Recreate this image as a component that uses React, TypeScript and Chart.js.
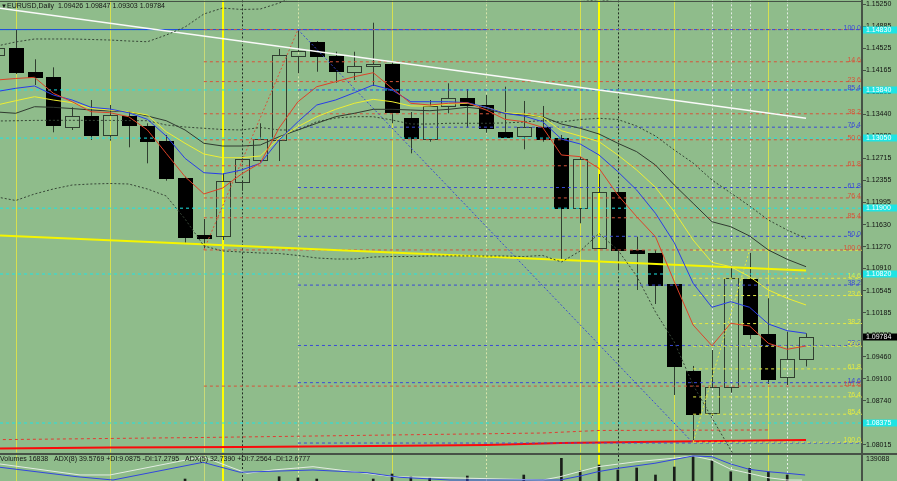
import React, { useEffect, useRef } from "react";
import { Chart, registerables } from "chart.js";

Chart.register(...registerables);

// ---------- data ----------
const FIRST_INDEX = -1; // first array entry is the partly visible candle
const X_MIN = -0.834;
const X_MAX = 44.975;
const Y_MIN = 1.07889;
const Y_MAX = 1.1531;

const titleText = "EURUSD,Daily  1.09426 1.09847 1.09303 1.09784";
const volumeText =
  "Volumes 16838   ADX(8) 39.5769 +DI:9.0875 -DI:17.2795   ADX(5) 32.7390 +DI:7.2564 -DI:12.6777";

const opens = [1.14413, 1.14533, 1.14139, 1.14052, 1.13237, 1.13408, 1.13096, 1.13412, 1.13253, 1.13002, 1.12395, 1.11465, 1.11449, 1.12335, 1.12691, 1.13019, 1.14397, 1.14622, 1.14402, 1.14139, 1.14238, 1.14266, 1.13375, 1.1304, 1.13577, 1.13713, 1.13588, 1.13155, 1.13089, 1.13232, 1.13052, 1.11898, 1.11242, 1.1217, 1.11214, 1.1116, 1.10651, 1.09229, 1.08535, 1.08961, 1.10738, 1.09831, 1.09125, 1.09426];
const highs = [1.14594, 1.14823, 1.14343, 1.14211, 1.13555, 1.13675, 1.13593, 1.13483, 1.13293, 1.13101, 1.12417, 1.11723, 1.12472, 1.12718, 1.13293, 1.14512, 1.14823, 1.14643, 1.14467, 1.14467, 1.14943, 1.14303, 1.13478, 1.13675, 1.13949, 1.13855, 1.13757, 1.13893, 1.13659, 1.13577, 1.13101, 1.1274, 1.12461, 1.12231, 1.11432, 1.11214, 1.10651, 1.09311, 1.09573, 1.10956, 1.1117, 1.10422, 1.09873, 1.09847];
const lows = [1.14364, 1.14102, 1.13921, 1.13145, 1.13183, 1.13019, 1.13007, 1.12899, 1.12636, 1.12351, 1.11334, 1.11247, 1.11378, 1.12187, 1.12658, 1.12674, 1.14113, 1.14139, 1.13959, 1.14003, 1.13905, 1.13293, 1.128, 1.12991, 1.13457, 1.1322, 1.13138, 1.13068, 1.12866, 1.12991, 1.1105, 1.11652, 1.1123, 1.10886, 1.10558, 1.10328, 1.08835, 1.08085, 1.0849, 1.08873, 1.09754, 1.09015, 1.08999, 1.09303];
const closes = [1.14528, 1.14139, 1.14057, 1.1326, 1.13408, 1.13096, 1.13434, 1.1326, 1.12997, 1.1239, 1.11427, 1.11411, 1.12346, 1.12702, 1.1303, 1.14413, 1.14479, 1.14402, 1.14151, 1.14238, 1.14266, 1.13478, 1.13052, 1.13577, 1.13713, 1.13593, 1.13211, 1.13073, 1.13227, 1.13035, 1.11898, 1.12702, 1.1217, 1.11214, 1.1116, 1.1064, 1.09311, 1.08528, 1.08961, 1.1075, 1.09831, 1.09097, 1.09426, 1.09784];
const volumes = [55000, 60000, 52000, 64000, 48000, 50000, 54000, 47000, 58000, 62000, 72400, 63000, 60000, 50000, 56000, 79100, 75300, 72400, 58000, 55000, 72400, 86900, 79100, 75300, 60000, 81100, 65000, 52000, 84000, 64000, 132400, 95600, 113000, 98500, 104300, 84000, 107200, 139088, 125500, 93600, 103500, 93600, 84000, 16838];

const maRed = [1.14003, 1.14028, 1.14047, 1.13785, 1.13647, 1.13483, 1.13467, 1.13401, 1.13183, 1.128, 1.12417, 1.12133, 1.12231, 1.12461, 1.12641, 1.13216, 1.13647, 1.13893, 1.13975, 1.14057, 1.14123, 1.13867, 1.13621, 1.13593, 1.13621, 1.13631, 1.13511, 1.13358, 1.13319, 1.13227, 1.12773, 1.12745, 1.12554, 1.12116, 1.1176, 1.11432, 1.10694, 1.09983, 1.09644, 1.10011, 1.09967, 1.09683, 1.09585, 1.09639];
const maBlue = [1.13814, 1.13867, 1.13905, 1.13757, 1.13675, 1.13555, 1.13527, 1.13467, 1.13358, 1.13084, 1.12718, 1.12482, 1.12461, 1.12527, 1.12636, 1.13019, 1.13319, 1.13593, 1.13675, 1.13795, 1.13921, 1.13839, 1.13647, 1.13647, 1.13647, 1.13631, 1.13555, 1.13457, 1.13412, 1.13319, 1.13035, 1.12953, 1.12773, 1.12499, 1.12198, 1.11816, 1.11334, 1.10668, 1.10274, 1.10366, 1.10274, 1.1, 1.0989, 1.09847];
const maYellow = [1.13593, 1.13663, 1.13729, 1.13675, 1.13631, 1.13539, 1.13511, 1.13483, 1.13429, 1.13155, 1.12965, 1.12789, 1.12728, 1.12728, 1.12756, 1.13047, 1.13237, 1.13401, 1.13522, 1.13621, 1.13686, 1.13647, 1.13577, 1.13577, 1.13609, 1.13621, 1.13555, 1.13467, 1.13445, 1.13396, 1.13171, 1.13084, 1.12991, 1.12773, 1.12527, 1.12243, 1.11842, 1.11378, 1.11012, 1.1094, 1.10776, 1.10558, 1.10421, 1.10312];
const maGray = [1.13478, 1.13457, 1.13565, 1.13555, 1.13535, 1.13511, 1.13494, 1.13483, 1.13412, 1.13335, 1.13183, 1.12965, 1.1292, 1.1292, 1.12937, 1.13073, 1.13183, 1.13293, 1.13401, 1.13457, 1.13522, 1.13522, 1.13511, 1.13499, 1.13522, 1.13555, 1.13522, 1.13457, 1.13429, 1.13401, 1.13281, 1.13211, 1.13117, 1.12965, 1.12827, 1.12608, 1.1228, 1.1198, 1.11678, 1.11596, 1.11444, 1.11214, 1.11061, 1.1094];
const bandUpper = [1.14561, 1.14627, 1.14676, 1.14676, 1.14676, 1.14668, 1.14659, 1.14643, 1.14631, 1.14741, 1.14873, 1.15086, 1.15184, 1.1516, 1.15168, 1.15266, 1.15398, 1.1552, 1.1556, 1.1558, 1.156, 1.156, 1.156, 1.156, 1.156, 1.156, 1.1558, 1.1555, 1.155, 1.1545, 1.1538, 1.1533, 1.1529, 1.1534, 1.1545, 1.156, 1.156, 1.156, 1.156, 1.156, 1.156, 1.156, 1.156, 1.156];
const bandMid = [1.1333, 1.13335, 1.1334, 1.13342, 1.13342, 1.1334, 1.1334, 1.13337, 1.13335, 1.13265, 1.13232, 1.13211, 1.13191, 1.13183, 1.13224, 1.13183, 1.13183, 1.13319, 1.1338, 1.13401, 1.13401, 1.13347, 1.13281, 1.13281, 1.13293, 1.13293, 1.13293, 1.13298, 1.13314, 1.13339, 1.13314, 1.13355, 1.13375, 1.13355, 1.13248, 1.13084, 1.12855, 1.12641, 1.12362, 1.12149, 1.11936, 1.11706, 1.11542, 1.11403];
const bandLower = [1.12084, 1.12026, 1.12133, 1.12215, 1.1228, 1.12297, 1.12305, 1.12297, 1.12215, 1.121, 1.11723, 1.1128, 1.11198, 1.11181, 1.11165, 1.11156, 1.11124, 1.11083, 1.11066, 1.11066, 1.11099, 1.11107, 1.11107, 1.11116, 1.11116, 1.11116, 1.11116, 1.11116, 1.11107, 1.11124, 1.11017, 1.11198, 1.11485, 1.11214, 1.10787, 1.10197, 1.09705, 1.08999, 1.08458, 1.07933, 1.07391, 1.0685, 1.06308, 1.058];

const redLineIdx = [-1, 5, 12, 19, 25, 29, 35, 42];
const redLineVal = [1.07957, 1.07974, 1.07982, 1.07998, 1.08015, 1.08047, 1.08072, 1.08097];
const redDotIdx = [-1, 10, 20, 28, 31, 40];
const redDotVal = [1.08102, 1.08138, 1.08179, 1.08211, 1.08253, 1.08261];

const whiteTrendIdx = [-0.834, 42];
const whiteTrendVal = [1.15179, 1.13375];
const yellowTrendIdx = [-0.834, 42];
const yellowTrendVal = [1.11452, 1.10878];

const fibLevels = [0, 14.6, 23.6, 38.2, 50, 61.8, 76.4, 85.4, 100];
const redFibLevels = [0, 14.6, 23.6, 38.2, 50, 61.8, 76.4, 85.4, 100, 161.8];
const redFibStart = 10;
const redFibHigh = 1.1483;
const redFibLow = 1.11215;
const blueFibStart = 15;
const blueFibEndIdx = 36;
const blueFibHigh = 1.1483;
const blueFibLow = 1.08047;
const yellowFibStart = 36;
const yellowFibEndIdx = 39;
const yellowFibHigh = 1.1121;
const yellowFibLow = 1.0806;

const blueHLine = 1.1483;
const blueHLineEnd = 25;
const cyanLevels = [1.1483, 1.1384, 1.1305, 1.119, 1.1082, 1.08375];
const lastPrice = 1.09784;

const yTicks = [1.1525, 1.14885, 1.14525, 1.14165, 1.13805, 1.1344, 1.1308, 1.12715, 1.12355, 1.11995, 1.1163, 1.1127, 1.1091, 1.10545, 1.10185, 1.0982, 1.0946, 1.091, 1.0874, 1.08375, 1.08015];

const vYellow = [0, 5, 20, 30, 35, 40];
const vPale = [10];
const vPaleDotted = [15, 25];
const vBright = [11, 31];
const vDarkDotted = [12, 32];
const vWhiteDotted = [37, 38, 39, 41];

const volMaxLabel = "139088";
const adxBlueIdx = [-0.834, 3.26, 5.17, 9.95, 11.92, 15.8, 18.67, 20.42, 23.08, 28.93, 30.0, 30.94, 32.0, 33.97, 36.0, 37.0, 38.0, 38.97, 39.98, 40.99, 41.95];
const adxBlueVal = [50.2, 37.3, 32.8, 57.0, 43.4, 46.5, 42.8, 36.5, 32.8, 32.8, 38.3, 44.2, 48.8, 55.7, 65.7, 64.7, 54.7, 47.5, 44.2, 42.0, 39.6];
const adxWhiteIdx = [-0.834, 3.42, 5.01, 9.95, 12.29, 13.67, 15.8, 17.93, 20.05, 22.02, 28.02, 28.93, 30.94, 33.02, 34.93, 36.0, 37.0, 38.0, 38.97, 39.98, 40.99, 41.79];
const adxWhiteVal = [54.7, 39.7, 39.7, 64.7, 42.0, 46.5, 51.0, 44.2, 37.3, 36.5, 32.8, 37.3, 51.0, 57.9, 62.5, 65.7, 60.2, 47.5, 42.0, 36.0, 32.8, 32.7];

// ---------- styles ----------
const BG = "rgb(143,188,139)";
const FONT = '"Liberation Sans", Arial, sans-serif';
const RED_FIB = "rgb(214,84,58)";
const BLUE_FIB = "rgb(58,74,214)";
const YEL_FIB = "rgb(228,234,66)";
const CYAN = "rgb(30,228,228)";
const AXIS = "rgb(70,82,70)";

const vGroups = [
  { idx: vYellow, color: "rgb(214,224,80)", width: 1, dash: [] as number[] },
  { idx: vPale, color: "rgb(200,218,120)", width: 1, dash: [] as number[] },
  { idx: vPaleDotted, color: "rgb(215,228,170)", width: 1, dash: [2, 2] },
  { idx: vBright, color: "rgb(255,255,0)", width: 2, dash: [] as number[] },
  { idx: vDarkDotted, color: "rgb(35,45,35)", width: 1, dash: [2, 2] },
  { idx: vWhiteDotted, color: "rgb(228,236,228)", width: 1, dash: [2, 2] },
];

const series = (arr: number[]) => arr.map((v, i) => ({ x: i + FIRST_INDEX, y: v }));
const pairs = (xs: number[], ys: number[]) => xs.map((x, i) => ({ x, y: ys[i] }));
const seg = (x0: number, x1: number, y: number) => [{ x: x0, y }, { x: x1, y }];
const redFibPrice = (l: number) => redFibHigh - (l / 100) * (redFibHigh - redFibLow);
const blueFibPrice = (l: number) => blueFibLow + (l / 100) * (blueFibHigh - blueFibLow);
const yellowFibPrice = (l: number) => yellowFibHigh - (l / 100) * (yellowFibHigh - yellowFibLow);

const fmtLvl = (l: number) => l.toFixed(1);

function line(data: any[], color: string, width = 1, dash: number[] = []) {
  return {
    type: "line",
    data,
    borderColor: color,
    borderWidth: width,
    borderDash: dash,
    pointRadius: 0,
    fill: false,
    tension: 0,
    spanGaps: true,
  };
}

function drawVerticals(chart: any) {
  const { ctx, chartArea, scales } = chart;
  const xs = scales.x;
  ctx.save();
  ctx.beginPath();
  ctx.rect(chartArea.left, chartArea.top, chartArea.width, chartArea.height);
  ctx.clip();
  for (const g of vGroups) {
    ctx.strokeStyle = g.color;
    ctx.lineWidth = g.width;
    ctx.setLineDash(g.dash);
    for (const i of g.idx) {
      const px = Math.round(xs.getPixelForValue(i)) + (g.width % 2 ? 0.5 : 0);
      ctx.beginPath();
      ctx.moveTo(px, chartArea.top);
      ctx.lineTo(px, chartArea.bottom);
      ctx.stroke();
    }
  }
  ctx.restore();
}

const mainPlugin = {
  id: "mtMain",
  beforeDatasetsDraw(chart: any) {
    drawVerticals(chart);
    const { ctx, chartArea, scales } = chart;
    const xs = scales.x;
    const ys = scales.y;
    const step = xs.getPixelForValue(1) - xs.getPixelForValue(0);
    const bw = Math.round(step * 0.72);
    ctx.save();
    ctx.beginPath();
    ctx.rect(chartArea.left, chartArea.top, chartArea.width, chartArea.height);
    ctx.clip();
    ctx.setLineDash([]);
    for (let i = 0; i < opens.length; i++) {
      const cx = Math.round(xs.getPixelForValue(i + FIRST_INDEX)) + 0.5;
      const o = ys.getPixelForValue(opens[i]);
      const c = ys.getPixelForValue(closes[i]);
      const h = ys.getPixelForValue(highs[i]);
      const l = ys.getPixelForValue(lows[i]);
      const top = Math.round(Math.min(o, c)) + 0.5;
      const bot = Math.max(Math.round(Math.max(o, c)) + 0.5, top + 1);
      const bull = closes[i] >= opens[i];
      ctx.strokeStyle = "rgb(48,62,48)";
      ctx.lineWidth = 1;
      ctx.beginPath();
      ctx.moveTo(cx, h);
      ctx.lineTo(cx, top);
      ctx.moveTo(cx, bot);
      ctx.lineTo(cx, l);
      ctx.stroke();
      const left = cx - bw / 2;
      if (bull) {
        ctx.strokeStyle = "rgb(48,62,48)";
        ctx.strokeRect(left, top, bw, bot - top);
      } else {
        ctx.fillStyle = "#000";
        ctx.fillRect(left - 0.5, top - 0.5, bw + 1, bot - top + 1);
      }
    }
    ctx.restore();
  },
  afterDraw(chart: any) {
    const { ctx, chartArea, scales } = chart;
    const ys = scales.y;
    ctx.save();
    ctx.fillStyle = AXIS;
    ctx.fillRect(0, 1, chartArea.right, 1);

    ctx.font = `7px ${FONT}`;
    ctx.textAlign = "right";
    ctx.textBaseline = "alphabetic";
    const rx = chartArea.right - 1;
    for (const l of redFibLevels) {
      if (l === 0) continue;
      ctx.fillStyle = RED_FIB;
      ctx.fillText(fmtLvl(l), rx, Math.round(ys.getPixelForValue(redFibPrice(l))));
    }
    for (const l of fibLevels) {
      if (l === 0) continue;
      ctx.fillStyle = BLUE_FIB;
      ctx.fillText(fmtLvl(l), rx, Math.round(ys.getPixelForValue(blueFibPrice(l))));
    }
    for (const l of fibLevels) {
      if (l === 0) continue;
      ctx.fillStyle = YEL_FIB;
      ctx.fillText(fmtLvl(l), rx, Math.round(ys.getPixelForValue(yellowFibPrice(l))));
    }

    // title
    ctx.textAlign = "left";
    ctx.textBaseline = "middle";
    ctx.fillStyle = "#151515";
    ctx.font = `6px ${FONT}`;
    ctx.fillText("\u25BC", 1, 6);
    ctx.font = `7px ${FONT}`;
    ctx.fillText(titleText, 7, 6);

    // axis boxes
    const ax = chartArea.right + 1;
    for (const v of cyanLevels) {
      const py = Math.round(ys.getPixelForValue(v));
      ctx.fillStyle = CYAN;
      ctx.fillRect(ax, py - 3.5, 897 - ax, 7);
      ctx.fillStyle = "#ffffff";
      ctx.fillText(v.toFixed(5), chartArea.right + 4, py);
    }
    const pp = Math.round(ys.getPixelForValue(lastPrice));
    ctx.fillStyle = "#000";
    ctx.fillRect(ax, pp - 3.5, 897 - ax, 7);
    ctx.fillStyle = "#fff";
    ctx.fillText(lastPrice.toFixed(5), chartArea.right + 4, pp);
    ctx.restore();
  },
};

const volPlugin = {
  id: "mtVol",
  beforeDatasetsDraw(chart: any) {
    drawVerticals(chart);
  },
  afterDraw(chart: any) {
    const { ctx, chartArea } = chart;
    ctx.save();
    ctx.font = `7px ${FONT}`;
    ctx.textAlign = "left";
    ctx.textBaseline = "middle";
    ctx.fillStyle = "#151515";
    ctx.fillText(volumeText, 0, 4.5);
    ctx.fillText(volMaxLabel, chartArea.right + 4, 4);
    ctx.restore();
  },
};

export default function App() {
  const mainRef = useRef<HTMLCanvasElement>(null);
  const volRef = useRef<HTMLCanvasElement>(null);

  useEffect(() => {
    const datasets: any[] = [
      line(series(maRed), "rgb(222,66,40)"),
      line(series(maBlue), "rgb(40,60,232)"),
      line(series(maYellow), "rgb(238,238,50)"),
      line(series(maGray), "rgb(48,58,48)"),
      line(series(bandUpper), "rgb(55,70,55)", 1, [2, 2]),
      line(series(bandMid), "rgb(55,70,55)", 1, [2, 2]),
      line(series(bandLower), "rgb(55,70,55)", 1, [2, 2]),
      line(pairs(whiteTrendIdx, whiteTrendVal), "rgb(250,250,250)", 1.5),
      line(pairs(yellowTrendIdx, yellowTrendVal), "rgb(245,245,0)", 2),
      line([{ x: redFibStart, y: redFibLow }, { x: blueFibStart, y: redFibHigh }], RED_FIB, 1, [2, 2]),
      line([{ x: blueFibStart, y: blueFibHigh }, { x: blueFibEndIdx, y: blueFibLow }], BLUE_FIB, 1, [2, 2]),
      line([{ x: yellowFibStart, y: yellowFibLow }, { x: yellowFibEndIdx, y: yellowFibHigh }], YEL_FIB, 1, [2, 2]),
    ];
    for (const l of fibLevels) datasets.push(line(seg(yellowFibStart, X_MAX, yellowFibPrice(l)), YEL_FIB, 1, [3, 3]));
    for (const l of fibLevels) datasets.push(line(seg(blueFibStart, X_MAX, blueFibPrice(l)), BLUE_FIB, 1, [3, 3]));
    for (const l of redFibLevels) datasets.push(line(seg(redFibStart, X_MAX, redFibPrice(l)), RED_FIB, 1, [3, 3]));
    datasets.push(line(seg(X_MIN, blueHLineEnd, blueHLine), "rgb(30,70,220)", 1));
    for (const v of cyanLevels) datasets.push(line(seg(X_MIN, X_MAX, v), CYAN, 1, [3, 3]));
    datasets.push(line(pairs(redLineIdx, redLineVal), "rgb(250,10,10)", 2));
    datasets.push(line(pairs(redDotIdx, redDotVal), "rgb(225,60,50)", 1, [3, 3]));

    const main = new Chart(mainRef.current as HTMLCanvasElement, {
      type: "line",
      data: { datasets },
      options: {
        animation: false,
        responsive: false,
        devicePixelRatio: 1,
        events: [],
        layout: { padding: 0 },
        plugins: { legend: { display: false }, tooltip: { enabled: false } },
        scales: {
          x: { type: "linear", min: X_MIN, max: X_MAX, display: false, offset: false },
          y: {
            type: "linear",
            position: "right",
            min: Y_MIN,
            max: Y_MAX,
            afterBuildTicks: (s: any) => {
              s.ticks = yTicks.map((v) => ({ value: v }));
            },
            afterFit: (s: any) => {
              s.width = 35;
            },
            ticks: {
              autoSkip: false,
              padding: 0,
              color: "#111",
              font: { family: FONT, size: 7, lineHeight: 0.1 },
              callback: (v: any) => Number(v).toFixed(5),
            },
            grid: { display: true, drawOnChartArea: false, drawTicks: true, tickLength: 4, color: AXIS },
            border: { display: true, color: AXIS, width: 2 },
          },
        },
      } as any,
      plugins: [mainPlugin],
    } as any);

    const vol = new Chart(volRef.current as HTMLCanvasElement, {
      type: "line",
      data: {
        datasets: [
          { ...line(pairs(adxBlueIdx, adxBlueVal), "rgb(50,70,222)"), yAxisID: "yAdx" },
          { ...line(pairs(adxWhiteIdx, adxWhiteVal), "rgb(226,236,226)"), yAxisID: "yAdx" },
          {
            type: "bar",
            data: series(volumes),
            backgroundColor: "rgb(25,30,25)",
            barThickness: 2,
            yAxisID: "y",
          },
        ],
      },
      options: {
        animation: false,
        responsive: false,
        devicePixelRatio: 1,
        events: [],
        layout: { padding: 0 },
        plugins: { legend: { display: false }, tooltip: { enabled: false } },
        scales: {
          x: { type: "linear", min: X_MIN, max: X_MAX, display: false, offset: false },
          y: {
            type: "linear",
            position: "right",
            min: 0,
            max: 142000,
            afterFit: (s: any) => {
              s.width = 35;
            },
            ticks: { display: false },
            grid: { display: false },
            border: { display: true, color: AXIS, width: 2 },
          },
          yAdx: { type: "linear", display: false, min: 0, max: 67 },
        },
      } as any,
      plugins: [volPlugin],
    } as any);

    return () => {
      main.destroy();
      vol.destroy();
    };
  }, []);

  return (
    <div
      style={{
        position: "fixed",
        left: 0,
        top: 0,
        width: 897,
        height: 481,
        overflow: "hidden",
        background: BG,
      }}
    >
      <div style={{ position: "absolute", left: 0, top: 0, width: 897, height: 453 }}>
        <canvas ref={mainRef} width={897} height={453} style={{ display: "block", width: 897, height: 453 }} />
      </div>
      <div style={{ position: "absolute", left: 0, top: 453, width: 897, height: 2, background: AXIS }} />
      <div style={{ position: "absolute", left: 0, top: 455, width: 897, height: 49 }}>
        <canvas ref={volRef} width={897} height={49} style={{ display: "block", width: 897, height: 49 }} />
      </div>
    </div>
  );
}
